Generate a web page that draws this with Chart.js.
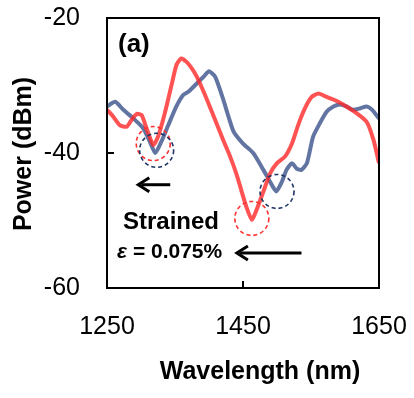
<!DOCTYPE html>
<html>
<head>
<meta charset="utf-8">
<script src="https://cdn.jsdelivr.net/npm/chart.js@4.4.1/dist/chart.umd.min.js"></script>
<style>
  html, body { margin: 0; padding: 0; background: #fff; }
</style>
</head>
<body>
<canvas id="spectre" width="414" height="398"></canvas>
<script>
// Courbe bleue (non contrainte)
const longueursBleu = [1250, 1262, 1274, 1289, 1303, 1313, 1321, 1330, 1340, 1352, 1362, 1370, 1382, 1392, 1400, 1409, 1421, 1436, 1450, 1465, 1480, 1490, 1499, 1507, 1514, 1522, 1529, 1536, 1544, 1553, 1563, 1573, 1583, 1593, 1602, 1612, 1622, 1632, 1640, 1650];
const puissanceBleu = [-33.1, -32.4, -33.6, -34.9, -36.3, -38.3, -40.0, -38.3, -35.9, -33.1, -31.4, -30.9, -29.7, -28.7, -27.9, -28.7, -32.1, -36.8, -38.6, -40.0, -42.5, -44.3, -45.7, -44.3, -42.5, -41.5, -42.3, -42.5, -41.5, -37.6, -35.6, -33.9, -33.1, -32.8, -33.1, -33.6, -33.4, -33.1, -33.6, -34.9];

// Courbe rouge (contrainte)
const longueursRouge = [1250, 1259, 1269, 1279, 1286, 1294, 1301, 1308, 1318, 1325, 1335, 1345, 1352, 1359, 1367, 1375, 1382, 1392, 1401, 1411, 1421, 1431, 1441, 1448, 1455, 1463, 1470, 1480, 1490, 1500, 1512, 1522, 1531, 1541, 1551, 1561, 1573, 1588, 1602, 1617, 1632, 1642, 1650];
const puissanceRouge = [-33.6, -34.6, -35.9, -36.1, -35.1, -34.2, -34.4, -36.3, -38.8, -37.6, -34.1, -29.9, -27.0, -26.0, -26.5, -27.5, -28.7, -30.9, -33.1, -35.6, -38.1, -40.5, -43.3, -45.7, -48.0, -49.9, -48.4, -45.7, -43.0, -41.5, -40.5, -38.6, -35.9, -33.4, -31.7, -31.2, -31.7, -32.3, -33.1, -34.1, -35.4, -38.1, -41.5];

// Graduations
const ticksX = [1250, 1450, 1650];
const ticksY = [-60, -40, -20];

// Cercles en pointillés autour des minima
const cerclesX = [1318, 1323, 1500, 1463];
const cerclesY = [-38.6, -39.6, -45.7, -49.7];
const cerclesCouleur = ['#ff3030', '#1f3566', '#1f3566', '#ff3030'];

// Flèches (pointe, queue, niveau)
const flechesPointe = [1296, 1441];
const flechesQueue = [1343, 1536];
const flechesNiveau = [-44.7, -54.8];

const police = "'Liberation Sans', Arial, sans-serif";

function versPoints(xs, ys) {
    return xs.map((x, i) => ({ x: x, y: ys[i] }));
}

const decorations = {
    id: 'decorations',
    afterDatasetsDraw(chart) {
        const ctx = chart.ctx;
        const a = chart.chartArea;
        const sx = chart.scales.x;
        const sy = chart.scales.y;
        ctx.save();

        // cadre
        ctx.strokeStyle = '#000';
        ctx.lineWidth = 2;
        ctx.strokeRect(a.left, a.top, a.right - a.left, a.bottom - a.top);

        // graduations vers l'intérieur
        ctx.beginPath();
        ticksY.forEach(v => {
            const y = sy.getPixelForValue(v);
            ctx.moveTo(a.left, y);
            ctx.lineTo(a.left + 7, y);
        });
        ticksX.forEach(v => {
            const x = sx.getPixelForValue(v);
            ctx.moveTo(x, a.bottom);
            ctx.lineTo(x, a.bottom - 7);
        });
        ctx.stroke();

        // cercles
        ctx.lineWidth = 1.6;
        ctx.setLineDash([4, 3]);
        cerclesX.forEach((v, i) => {
            ctx.strokeStyle = cerclesCouleur[i];
            ctx.beginPath();
            ctx.arc(sx.getPixelForValue(v), sy.getPixelForValue(cerclesY[i]), 17, 0, Math.PI * 2);
            ctx.stroke();
        });
        ctx.setLineDash([]);

        // flèches
        ctx.strokeStyle = '#000';
        ctx.fillStyle = '#000';
        ctx.lineWidth = 3;
        flechesPointe.forEach((v, i) => {
            const xp = sx.getPixelForValue(v);
            const xq = sx.getPixelForValue(flechesQueue[i]);
            const y = sy.getPixelForValue(flechesNiveau[i]);
            ctx.beginPath();
            ctx.moveTo(xq, y);
            ctx.lineTo(xp + 3, y);
            ctx.stroke();
            ctx.beginPath();
            ctx.moveTo(xp + 11, y - 7);
            ctx.lineTo(xp, y);
            ctx.lineTo(xp + 11, y + 7);
            ctx.stroke();
        });

        // textes
        ctx.fillStyle = '#000';
        ctx.textBaseline = 'alphabetic';
        ctx.textAlign = 'left';
        ctx.font = 'bold 26px ' + police;
        ctx.fillText('(a)', 118, 52);
        ctx.font = 'bold 24px ' + police;
        ctx.fillText('Strained', 123, 229);
        ctx.font = 'italic bold 21px ' + police;
        ctx.fillText('ε', 117, 258);
        const le = ctx.measureText('ε ').width;
        ctx.font = 'bold 21px ' + police;
        ctx.fillText('= 0.075%', 117 + le, 258);

        // titres des axes
        ctx.font = 'bold 25px ' + police;
        ctx.textAlign = 'center';
        ctx.textBaseline = 'middle';
        ctx.fillText('Wavelength (nm)', 260, 372);
        ctx.translate(24, 154);
        ctx.rotate(-Math.PI / 2);
        ctx.fillText('Power (dBm)', 0, 0);

        ctx.restore();
    }
};

new Chart(document.getElementById('spectre'), {
    type: 'line',
    data: {
        datasets: [
            {
                label: 'Unstrained',
                data: versPoints(longueursBleu, puissanceBleu),
                borderColor: 'rgba(70, 92, 145, 0.85)',
                borderWidth: 4,
                pointRadius: 0,
                tension: 0.2,
                order: 2
            },
            {
                label: 'Strained',
                data: versPoints(longueursRouge, puissanceRouge),
                borderColor: 'rgba(255, 40, 40, 0.8)',
                borderWidth: 4,
                pointRadius: 0,
                tension: 0.2,
                order: 1
            }
        ]
    },
    options: {
        responsive: false,
        animation: false,
        layout: { padding: { top: 18, right: 35, left: 0, bottom: 0 } },
        plugins: {
            legend: { display: false },
            tooltip: { enabled: false }
        },
        scales: {
            x: {
                type: 'linear',
                min: 1250,
                max: 1650,
                afterBuildTicks: s => { s.ticks = ticksX.map(v => ({ value: v })); },
                afterFit: s => { s.height = 110; s.paddingLeft = 0; s.paddingRight = 0; },
                grid: { display: false, drawTicks: false },
                border: { display: false },
                ticks: {
                    padding: 24,
                    color: '#000',
                    font: { family: police, size: 25 },
                    maxRotation: 0,
                    callback: v => String(v)
                }
            },
            y: {
                type: 'linear',
                min: -60,
                max: -20,
                afterBuildTicks: s => { s.ticks = ticksY.map(v => ({ value: v })); },
                afterFit: s => { s.width = 107; s.paddingTop = 0; s.paddingBottom = 0; },
                grid: { display: false, drawTicks: false },
                border: { display: false },
                ticks: {
                    padding: 27,
                    color: '#000',
                    font: { family: police, size: 25 },
                    callback: v => String(v)
                }
            }
        }
    },
    plugins: [decorations]
});
</script>
</body>
</html>
